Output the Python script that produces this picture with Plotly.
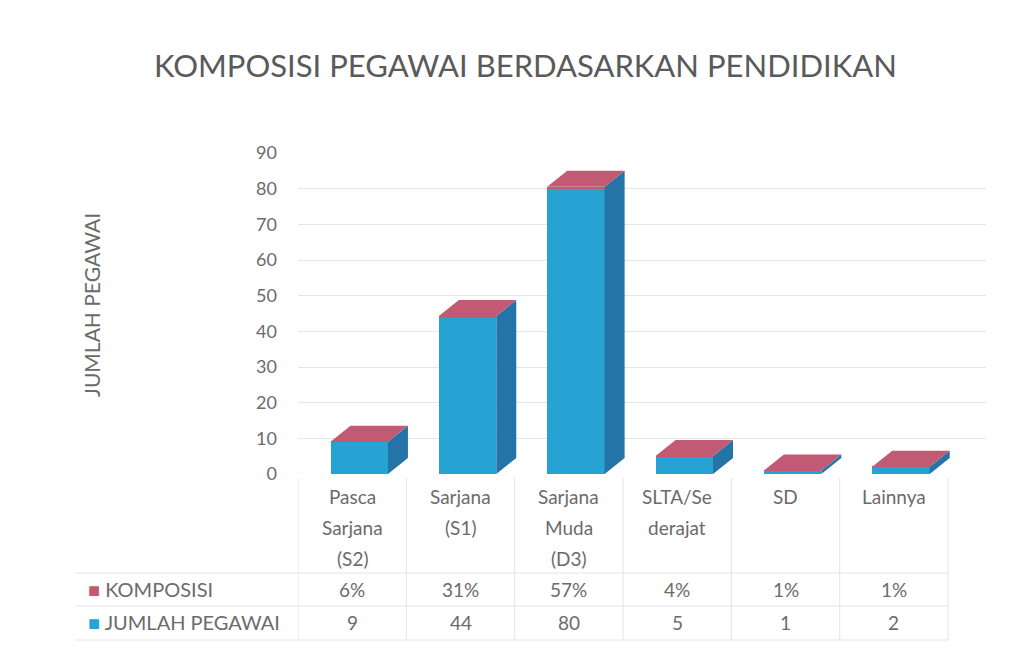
import plotly.graph_objects as go

# ---------------- data ----------------
categories = ["Pasca Sarjana (S2)", "Sarjana (S1)", "Sarjana Muda (D3)",
              "SLTA/Sederajat", "SD", "Lainnya"]
category_lines = [["Pasca", "Sarjana", "(S2)"], ["Sarjana", "(S1)"],
                  ["Sarjana", "Muda", "(D3)"], ["SLTA/Se", "derajat"],
                  ["SD"], ["Lainnya"]]
jumlah_pegawai = [9, 44, 80, 5, 1, 2]
komposisi = [0.06, 0.31, 0.57, 0.04, 0.01, 0.01]
komposisi_labels = ["6%", "31%", "57%", "4%", "1%", "1%"]
series_names = ["KOMPOSISI", "JUMLAH PEGAWAI"]
y_ticks = [0, 10, 20, 30, 40, 50, 60, 70, 80, 90]
title_text = "KOMPOSISI PEGAWAI BERDASARKAN PENDIDIKAN"
y_title = "JUMLAH PEGAWAI"

# ---------------- style ----------------
FONT = "Lato"
TXT = "#6b6b6b"
BLUE = "#27a3d3"
BLUE_SIDE = "#2474a8"
RED = "#c25a73"
GRID = "#e6e6e6"
TABLE_LINE = "#e4e4e4"

OFF = 8  # page body margin
W_FIG, H_FIG = 1023 - OFF, 650 - OFF
X_MAX = len(categories) - 0.5 + 0.35
UNIT_PX = 108.33
L, T, B = 298, 153, 474
R = L + (X_MAX + 0.5) * UNIT_PX
PW, PH = R - L, B - T

def px_x(px):
    return (px - L) / PW

def px_y(py):
    return (B - py) / PH

idx = list(range(len(categories)))
bar_w = 0.53
bar_off = -0.20
depth_dx = 20 / UNIT_PX
depth_dy = 16 / (PH / 90)

fig = go.Figure()
fig.add_trace(go.Bar(x=idx, y=jumlah_pegawai, name=series_names[1],
                     marker=dict(color=BLUE, line=dict(width=0)),
                     width=bar_w, offset=bar_off, showlegend=False,
                     hovertext=categories))
fig.add_trace(go.Bar(x=idx, y=komposisi, name=series_names[0],
                     marker=dict(color=RED, line=dict(width=0)),
                     width=bar_w, offset=bar_off, showlegend=False,
                     text=komposisi_labels, textposition="none",
                     hovertext=categories))

shapes = []
for i, (v, k) in enumerate(zip(jumlah_pegawai, komposisi)):
    top = v + k
    x0 = i + bar_off
    x1 = x0 + bar_w
    shapes.append(dict(type="path", xref="x", yref="y", layer="above",
                       path=f"M {x1},0 L {x1 + depth_dx},{depth_dy} L {x1 + depth_dx},{top + depth_dy} L {x1},{top} Z",
                       fillcolor=BLUE_SIDE, line=dict(width=0)))
    shapes.append(dict(type="path", xref="x", yref="y", layer="above",
                       path=f"M {x0},{top} L {x1},{top} L {x1 + depth_dx},{top + depth_dy} L {x0 + depth_dx},{top + depth_dy} Z",
                       fillcolor=RED, line=dict(width=0)))

# table lines
for b in [i - 0.5 for i in range(len(categories) + 1)]:
    shapes.append(dict(type="line", xref="x", yref="paper", x0=b, x1=b,
                       y0=px_y(478), y1=px_y(640), line=dict(color=TABLE_LINE, width=1)))
for py in [573, 606, 640]:
    shapes.append(dict(type="line", xref="paper", yref="paper", x0=px_x(75),
                       x1=px_x(L + len(categories) * UNIT_PX),
                       y0=px_y(py), y1=px_y(py), line=dict(color=TABLE_LINE, width=1)))

annotations = []
line_y = [496, 527, 558]
for i, lines in enumerate(category_lines):
    for j, t in enumerate(lines):
        annotations.append(dict(x=i, y=px_y(line_y[j]), xref="x", yref="paper",
                                text=t, showarrow=False, xanchor="center", yanchor="middle",
                                font=dict(family=FONT, size=19, color=TXT)))
row_y = [589, 622]
row_vals = [komposisi_labels, [str(v) for v in jumlah_pegawai]]
for r, vals in enumerate(row_vals):
    for i, t in enumerate(vals):
        annotations.append(dict(x=i, y=px_y(row_y[r]), xref="x", yref="paper",
                                text=t, showarrow=False, xanchor="center", yanchor="middle",
                                font=dict(family=FONT, size=19, color=TXT)))
key_colors = [RED, BLUE]
for r, name in enumerate(series_names):
    annotations.append(dict(x=px_x(86), y=px_y(row_y[r]), xref="paper", yref="paper",
                            text=f"<span style='color:{key_colors[r]}'>■</span> {name}",
                            showarrow=False, xanchor="left", yanchor="middle",
                            font=dict(family=FONT, size=20, color=TXT)))
annotations.append(dict(x=px_x(91), y=px_y(305), xref="paper", yref="paper",
                        text=y_title, textangle=-90, showarrow=False,
                        xanchor="center", yanchor="middle",
                        font=dict(family=FONT, size=21, color=TXT)))
annotations.append(dict(x=px_x(525), y=px_y(65), xref="paper", yref="paper",
                        text=title_text, showarrow=False,
                        xanchor="center", yanchor="middle",
                        font=dict(family=FONT, size=31, color="#5a5a5a")))

fig.update_layout(
    width=W_FIG, height=H_FIG,
    margin=dict(l=L - OFF, r=1023 - R, t=T - OFF, b=650 - B, pad=0),
    paper_bgcolor="white", plot_bgcolor="white",
    barmode="stack", bargap=0,
    showlegend=False,
    shapes=shapes, annotations=annotations,
    font=dict(family=FONT, color=TXT),
)
fig.update_xaxes(range=[-0.5, X_MAX], tickvals=idx,
                 showticklabels=False, showgrid=False, zeroline=False,
                 showline=False, fixedrange=True)
fig.update_yaxes(range=[0, 90], tickvals=y_ticks, showgrid=True, gridcolor=GRID,
                 gridwidth=1, zeroline=False, showline=False,
                 tickfont=dict(family=FONT, size=18, color=TXT),
                 ticklabelstandoff=20, fixedrange=True)

fig.write_html("out.html")
